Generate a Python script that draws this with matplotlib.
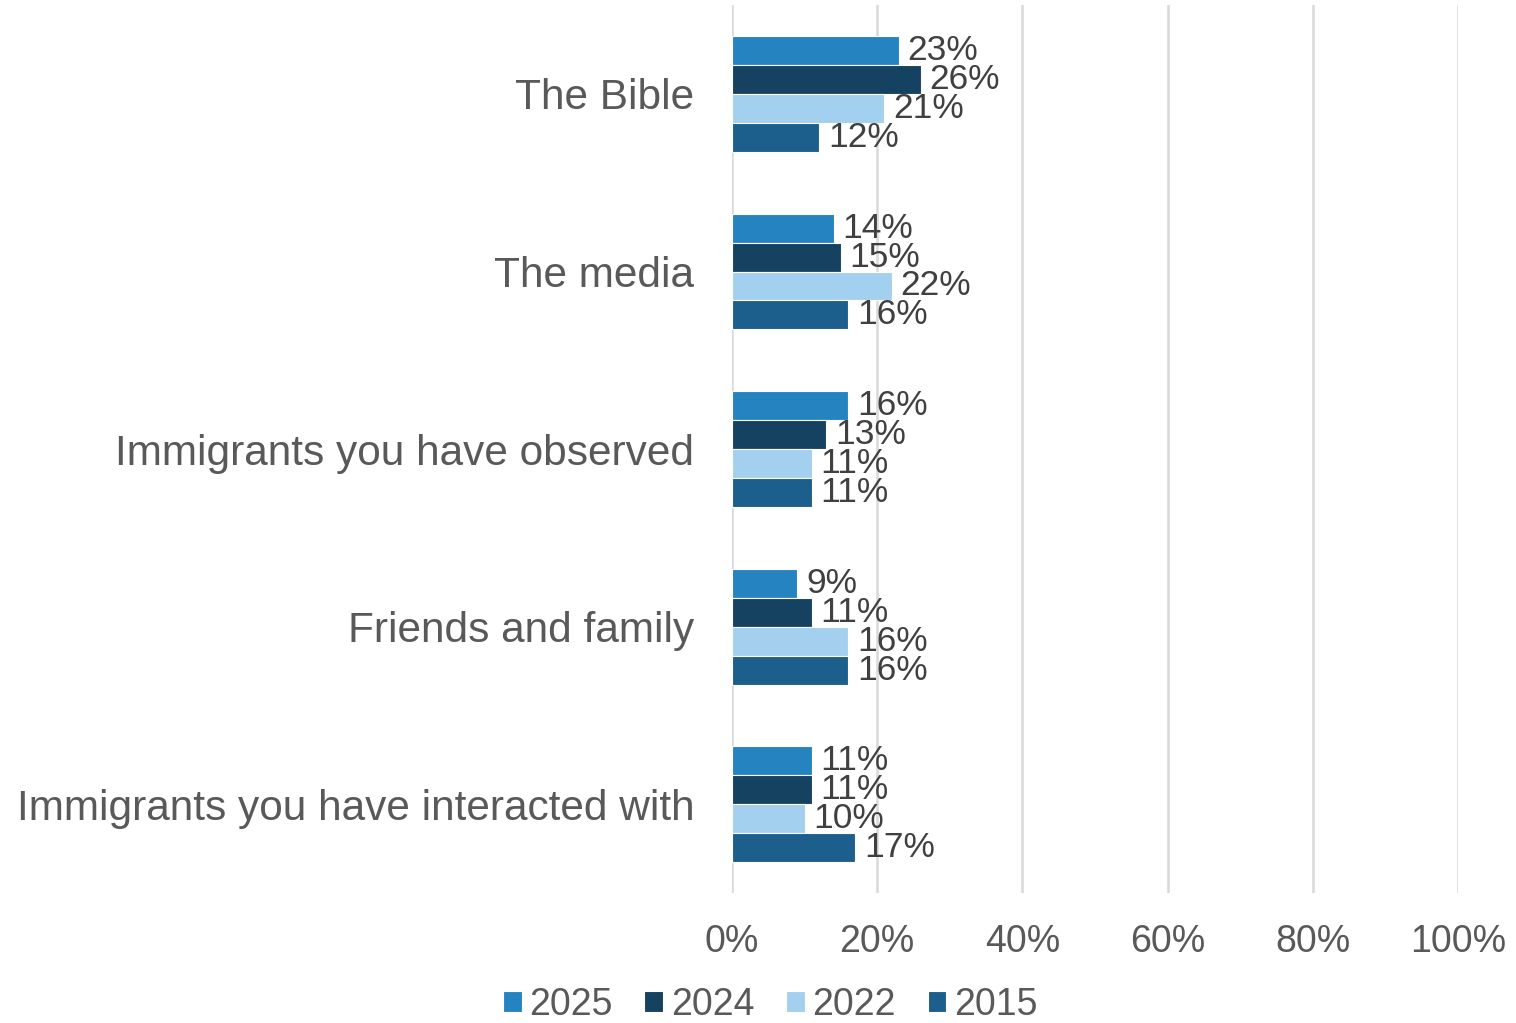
import numpy as np
import matplotlib.pyplot as plt

plt.rcParams['font.family'] = ['Liberation Sans', 'DejaVu Sans']

categories = ['The Bible', 'The media', 'Immigrants you have observed',
              'Friends and family', 'Immigrants you have interacted with']
years = ['2025', '2024', '2022', '2015']
v2025 = [23, 14, 16, 9, 11]
v2024 = [26, 15, 13, 11, 11]
v2022 = [21, 22, 11, 16, 10]
v2015 = [12, 16, 11, 16, 17]
colors = ['#2584C0', '#154261', '#A3D0EE', '#1D5F8C']

series = [v2025, v2024, v2022, v2015]

fig = plt.figure(figsize=(15.16, 10.23), dpi=100)
ax = fig.add_axes([0.4828, 0.127, 0.4789, 0.868])

y = np.arange(len(categories))
h = 0.163
for i, (vals, yr, c) in enumerate(zip(series, years, colors)):
    pos = y - 1.5 * h + i * h
    ax.barh(pos, vals, height=h, color=c, edgecolor='white', linewidth=0.8,
            label=yr, zorder=3)
    for p, v in zip(pos, vals):
        ax.text(v + 1.2, p, f'{v}%', va='center', ha='left',
                fontsize=25.5, color='#404040', zorder=4)

ax.set_xlim(0, 100)
ax.set_ylim(4.5, -0.5)
ax.set_xticks(np.arange(0, 101, 20))
ax.set_xticklabels([f'{t}%' for t in range(0, 101, 20)])
ax.set_yticks(y)
ax.set_yticklabels(categories)
ax.tick_params(axis='x', labelsize=27, colors='#595959', length=0, pad=22)
ax.tick_params(axis='y', labelsize=30.5, colors='#595959', length=0, pad=27)
ax.grid(axis='x', color='#D9D9D9', linewidth=1.8, zorder=0)
for s in ax.spines.values():
    s.set_visible(False)

fig.legend(loc='center', bbox_to_anchor=(0.508, 0.018), ncol=4,
           frameon=False, fontsize=27, labelcolor='#595959',
           handlelength=0.5, handleheight=0.5, handletextpad=0.2,
           columnspacing=0.85)

fig.savefig('out.png', dpi=100)
